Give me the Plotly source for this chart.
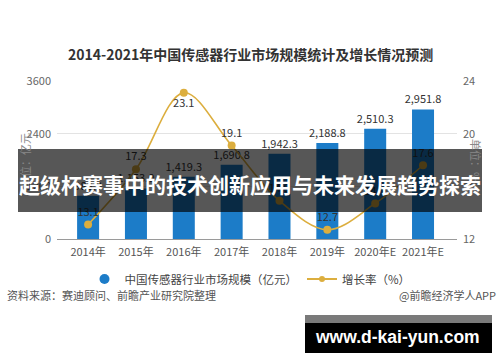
import plotly.graph_objects as go

years = ["2014年", "2015年", "2016年", "2017年", "2018年", "2019年", "2020年E", "2021年E"]
market_size = [983.0, 1153.0, 1419.3, 1690.8, 1942.3, 2188.8, 2510.3, 2951.8]
growth_rate = [13.1, 17.3, 23.1, 19.1, 14.9, 12.7, 14.7, 17.6]
growth_text_pos = ["top center", "top center", "bottom center", "top center",
                   "top center", "top center", "top center", "top center"]
left_ticks = [0, 1200, 2400, 3600]
right_ticks = [12, 16, 20, 24]

W, H = 500, 362
FONT = "Noto Sans CJK SC"
BLUE = "#1c7cc8"
GOLD = "#dcae3e"


def px(x):
    return x / W


def py(y):
    return 1 - y / H


fig = go.Figure()
fig.add_trace(go.Bar(
    x=years, y=market_size, width=0.46, marker=dict(color=BLUE, line=dict(width=0)),
    texttemplate="%{y:,.1f}", textposition="outside", cliponaxis=False,
    constraintext="none",
    textfont=dict(family=FONT, size=11, color="#333"),
    name="中国传感器行业市场规模（亿元）", showlegend=False,
))
fig.add_trace(go.Scatter(
    x=years, y=growth_rate, yaxis="y2", mode="lines+markers+text",
    line=dict(color=GOLD, width=1.6, shape="spline", smoothing=1.0),
    marker=dict(color=GOLD, size=8),
    text=[f"{v:.1f}" for v in growth_rate], textposition=growth_text_pos,
    textfont=dict(family=FONT, size=11, color="#333"),
    cliponaxis=False, name="增长率（%）", showlegend=False,
))
# legend proxies
fig.add_trace(go.Scatter(x=[None], y=[None], mode="markers",
                         marker=dict(color=BLUE, size=10, symbol="circle"),
                         name="中国传感器行业市场规模（亿元）"))
fig.add_trace(go.Scatter(x=[None], y=[None], mode="lines+markers", yaxis="y2",
                         line=dict(color=GOLD, width=2), marker=dict(color=GOLD, size=6),
                         name="增长率（%）"))

x_dom = [px(57), px(457)]
y_dom = [py(239), py(81)]

fig.update_layout(
    width=W, height=H, margin=dict(l=0, r=0, t=0, b=0),
    paper_bgcolor="white", plot_bgcolor="white",
    font=dict(family=FONT, size=11, color="#555"),
    xaxis=dict(domain=x_dom, type="category", range=[-0.65, 7.71], automargin=False,
               showline=True, linecolor="#9a9a9a", linewidth=1,
               ticks="", tickfont=dict(size=11, color="#555"), showgrid=False,
               ticklabelstandoff=3),
    yaxis=dict(domain=y_dom, range=[0, 3600], tickvals=left_ticks, automargin=False,
               showgrid=True, gridcolor="#e3e3e3", gridwidth=1, zeroline=False,
               tickfont=dict(size=11, color="#666"), ticklabelstandoff=5),
    yaxis2=dict(domain=y_dom, range=[12, 24], tickvals=right_ticks, overlaying="y",
                side="right", showgrid=False, zeroline=False, automargin=False,
                tickfont=dict(size=11, color="#666"), ticklabelstandoff=5),
    legend=dict(orientation="h", x=0.5, xanchor="center", y=py(279), yanchor="middle",
                font=dict(size=11.5, color="#444"), bgcolor="rgba(0,0,0,0)",
                itemwidth=30, tracegroupgap=0),
    showlegend=True,
)

annotations = [
    dict(text="<b>2014-2021年中国传感器行业市场规模统计及增长情况预测</b>",
         x=0.5, y=py(54), xref="paper", yref="paper", showarrow=False,
         font=dict(size=14, color="#333"), xanchor="center", yanchor="middle"),
    dict(text="单位：亿元", x=px(15), y=py(161), xref="paper", yref="paper",
         showarrow=False, textangle=-90, font=dict(size=11, color="#888")),
    dict(text="单位：%", x=px(486), y=py(160), xref="paper", yref="paper",
         showarrow=False, textangle=90, font=dict(size=11, color="#888")),
    dict(text="资料来源：赛迪顾问、前瞻产业研究院整理", x=px(5), y=py(305),
         xref="paper", yref="paper", showarrow=False, xanchor="left",
         font=dict(size=11, color="#555")),
    dict(text="@前瞻经济学人APP", x=px(498), y=py(305), xref="paper", yref="paper",
         showarrow=False, xanchor="right", font=dict(size=11, color="#555")),
    dict(text="<b>超级杯赛事中的技术创新应用与未来发展趋势探索</b>", x=px(250), y=py(184),
         xref="paper", yref="paper", showarrow=False, xanchor="center", yanchor="middle",
         font=dict(size=21, color="white")),
    dict(text="<b>www.d-kai-yun.com</b>", x=px(397), y=py(337), xref="paper", yref="paper",
         showarrow=False, xanchor="center", yanchor="middle",
         font=dict(family="Liberation Sans", size=17.5, color="white")),
]
fig.update_layout(annotations=annotations)

shapes = [
    dict(type="rect", xref="paper", yref="paper", x0=px(18), x1=px(482), y0=py(212), y1=py(149),
         fillcolor="rgba(0,0,0,0.66)", line=dict(width=0), layer="above"),
    dict(type="rect", xref="paper", yref="paper", x0=px(305), x1=px(492), y0=py(323), y1=py(315),
         fillcolor="#7a7a7a", line=dict(width=0), layer="above"),
    dict(type="rect", xref="paper", yref="paper", x0=px(305), x1=px(492), y0=py(353), y1=py(323),
         fillcolor="#000000", line=dict(width=0), layer="above"),
]
fig.update_layout(shapes=shapes)

fig.write_html(
    "out.html",
    config={"displayModeBar": False},
    post_script="document.body.style.margin='0';document.body.style.overflow='hidden';",
)
